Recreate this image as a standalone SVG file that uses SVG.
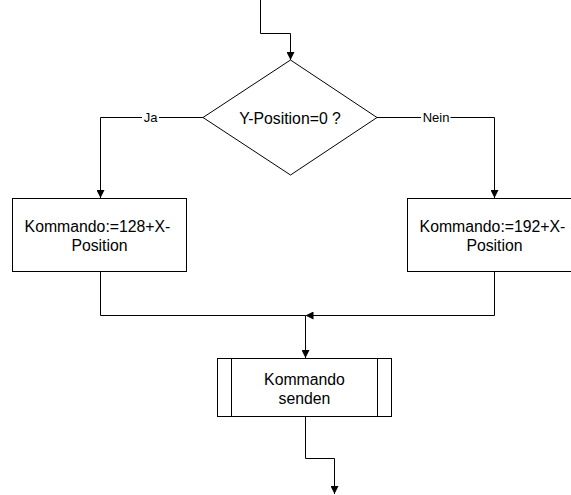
<svg xmlns="http://www.w3.org/2000/svg" width="571" height="495" viewBox="0 0 571 495">
  <style>
    .shape { fill: #ffffff; stroke: #000000; stroke-width: 1; }
    .edge { fill: none; stroke: #000000; stroke-width: 1; }
    .txt { font-family: "Liberation Sans", Arial, sans-serif; font-size: 15.8px; fill: #000000; text-anchor: middle; }
    .lbl { font-family: "Liberation Sans", Arial, sans-serif; font-size: 13px; fill: #000000; text-anchor: middle; }
  </style>
  <defs>
    <marker id="arrow" viewBox="0 0 10 10" refX="10" refY="5" markerWidth="8" markerHeight="8" markerUnits="userSpaceOnUse" orient="auto">
      <path d="M0,0 L10,5 L0,10 Z" fill="#000000"/>
    </marker>
  </defs>
  <rect width="571" height="495" fill="#ffffff"/>

  <g id="connectors">
    <path class="edge" d="M260.5,0 V33.5 H290.5 V60" marker-end="url(#arrow)"/>
    <path class="edge" d="M203,117.5 H100.5 V198" marker-end="url(#arrow)"/>
    <path class="edge" d="M377,117.5 H494.5 V198" marker-end="url(#arrow)"/>
    <path class="edge" d="M100.5,272 V315.5 H305.5"/>
    <path class="edge" d="M494.5,272 V315.5 H305.5" marker-end="url(#arrow)"/>
    <path class="edge" d="M305.5,315.5 V358" marker-end="url(#arrow)"/>
    <path class="edge" d="M305.5,417 V458.5 H334.5 V494" marker-end="url(#arrow)"/>
    <rect x="142" y="110" width="17" height="15" fill="#ffffff"/>
    <text class="lbl" x="150.5" y="122">Ja</text>
    <rect x="421" y="110" width="29.5" height="15" fill="#ffffff"/>
    <text class="lbl" x="436" y="122">Nein</text>
  </g>

  <g id="decision">
    <polygon class="shape" points="290.5,60 377,117.5 290.5,175 203,117.5"/>
    <text class="txt" x="290" y="123.5">Y-Position=0 ?</text>
  </g>

  <g id="cmd128">
    <rect class="shape" x="12.5" y="198.5" width="174" height="73"/>
    <text class="txt" x="97.5" y="231.5">Kommando:=128+X-</text>
    <text class="txt" x="99.5" y="250.5">Position</text>
  </g>

  <g id="cmd192">
    <rect class="shape" x="407.5" y="198.5" width="174" height="73"/>
    <text class="txt" x="492.5" y="231.5">Kommando:=192+X-</text>
    <text class="txt" x="494.5" y="250.5">Position</text>
  </g>

  <g id="send">
    <rect class="shape" x="217.5" y="358.5" width="174" height="58"/>
    <line class="edge" x1="231.5" y1="358.5" x2="231.5" y2="416.5"/>
    <line class="edge" x1="377.5" y1="358.5" x2="377.5" y2="416.5"/>
    <text class="txt" x="304.5" y="385">Kommando</text>
    <text class="txt" x="304.5" y="404">senden</text>
  </g>
</svg>
